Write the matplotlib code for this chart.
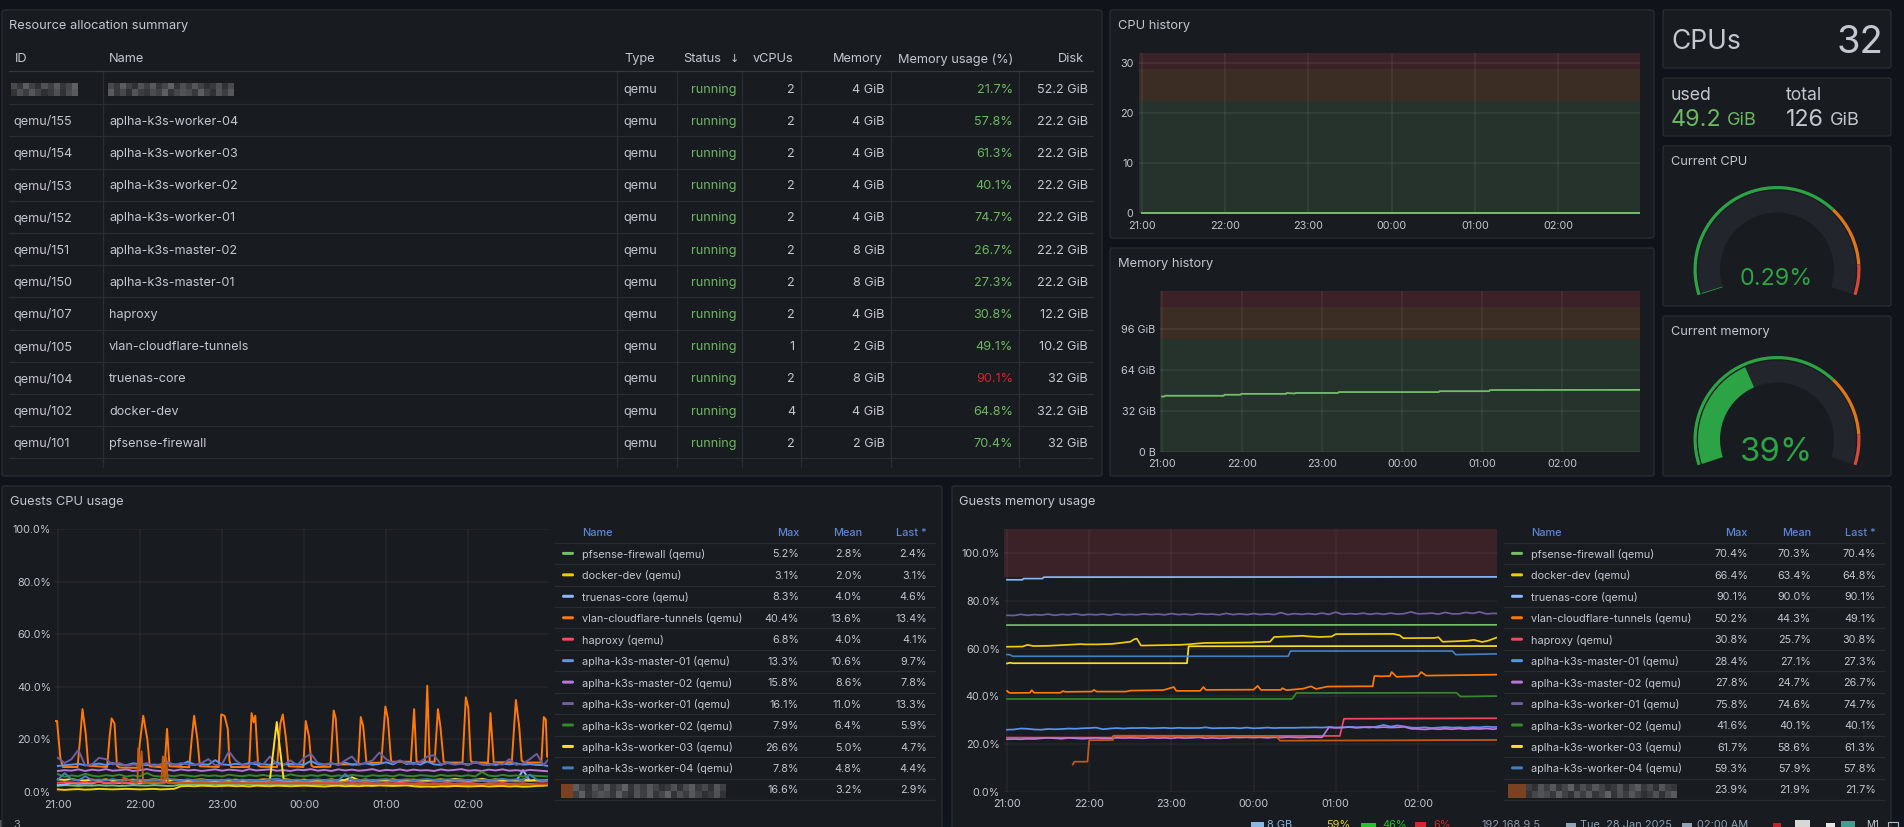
import matplotlib
matplotlib.use('Agg')
import matplotlib.pyplot as plt
import numpy as np
from matplotlib.patches import Rectangle, Wedge, FancyBboxPatch

plt.rcParams['font.family'] = ['Inter', 'DejaVu Sans']

W, H = 1904, 827

# table data
ids = ['', 'qemu/155', 'qemu/154', 'qemu/153', 'qemu/152', 'qemu/151', 'qemu/150',
       'qemu/107', 'qemu/105', 'qemu/104', 'qemu/102', 'qemu/101']
vm_names = ['', 'aplha-k3s-worker-04', 'aplha-k3s-worker-03', 'aplha-k3s-worker-02',
            'aplha-k3s-worker-01', 'aplha-k3s-master-02', 'aplha-k3s-master-01',
            'haproxy', 'vlan-cloudflare-tunnels', 'truenas-core', 'docker-dev', 'pfsense-firewall']
vcpus = [2, 2, 2, 2, 2, 2, 2, 2, 1, 2, 4, 2]
memory = ['4 GiB', '4 GiB', '4 GiB', '4 GiB', '4 GiB', '8 GiB', '8 GiB', '4 GiB', '2 GiB',
          '8 GiB', '4 GiB', '2 GiB']
mem_usage = [21.7, 57.8, 61.3, 40.1, 74.7, 26.7, 27.3, 30.8, 49.1, 90.1, 64.8, 70.4]
disk = ['52.2 GiB', '22.2 GiB', '22.2 GiB', '22.2 GiB', '22.2 GiB', '22.2 GiB', '22.2 GiB',
        '12.2 GiB', '10.2 GiB', '32 GiB', '32.2 GiB', '32 GiB']

# legend data
legend_names = ['pfsense-firewall (qemu)', 'docker-dev (qemu)', 'truenas-core (qemu)',
                'vlan-cloudflare-tunnels (qemu)', 'haproxy (qemu)', 'aplha-k3s-master-01 (qemu)',
                'aplha-k3s-master-02 (qemu)', 'aplha-k3s-worker-01 (qemu)', 'aplha-k3s-worker-02 (qemu)',
                'aplha-k3s-worker-03 (qemu)', 'aplha-k3s-worker-04 (qemu)', '']
series_colors = ['#73BF69', '#F2CC0C', '#8AB8FF', '#FF780A', '#F2495C', '#5794F2',
                 '#B877D9', '#705DA0', '#37872D', '#FADE2A', '#447EBC', '#C15C17']
cpu_max = ['5.2%', '3.1%', '8.3%', '40.4%', '6.8%', '13.3%', '15.8%', '16.1%', '7.9%', '26.6%', '7.8%', '16.6%']
cpu_mean = ['2.8%', '2.0%', '4.0%', '13.6%', '4.0%', '10.6%', '8.6%', '11.0%', '6.4%', '5.0%', '4.8%', '3.2%']
cpu_last = ['2.4%', '3.1%', '4.6%', '13.4%', '4.1%', '9.7%', '7.8%', '13.3%', '5.9%', '4.7%', '4.4%', '2.9%']
mem_max = ['70.4%', '66.4%', '90.1%', '50.2%', '30.8%', '28.4%', '27.8%', '75.8%', '41.6%', '61.7%', '59.3%', '23.9%']
mem_mean = ['70.3%', '63.4%', '90.0%', '44.3%', '25.7%', '27.1%', '24.7%', '74.6%', '40.1%', '58.6%', '57.9%', '21.9%']
mem_last = ['70.4%', '64.8%', '90.1%', '49.1%', '30.8%', '27.3%', '26.7%', '74.7%', '40.1%', '61.3%', '57.8%', '21.7%']

hour_labels = ['21:00', '22:00', '23:00', '00:00', '01:00', '02:00']

# host history, hours after 21:00
host_cpu_t = [0.0, 5.97]
host_cpu_v = [0.09, 0.09]
host_mem_t = [0.0, 0.03, 0.04, 0.06, 0.07, 0.77, 0.78, 0.98, 0.99, 1.55, 1.56, 1.6, 1.66, 1.67,
              2.2, 2.21, 3.46, 3.47, 4.09, 4.1, 5.97]
host_mem_v = [43.4, 43.4, 44.1, 44.1, 44.0, 44.0, 44.8, 44.8, 45.5, 45.5, 46.2, 46.0, 45.8, 46.2,
              46.2, 46.9, 46.9, 47.6, 47.6, 48.5, 48.6]

# guests cpu, one value every 5 minutes
cpu_pfsense = [2.4, 2.6, 2.5, 2.3, 2.5, 2.4, 2.6, 2.4, 2.5, 2.3, 2.4, 2.6, 2.5, 2.4, 2.6, 2.5, 2.3, 2.4,
               2.8, 2.9, 3.0, 2.8, 2.9, 3.1, 2.9, 2.8, 3.0, 3.1, 2.9, 2.8, 3.0, 2.9, 3.1, 2.8, 2.9, 3.0,
               2.9, 3.1, 2.8, 3.0, 2.9, 2.8, 3.0, 2.9, 3.1, 2.9, 2.8, 3.0, 2.9, 2.8, 3.0, 3.1, 2.9, 2.8,
               3.0, 2.9, 3.1, 2.8, 3.0, 2.9, 2.8, 3.0, 2.9, 3.1, 2.8, 2.9, 3.0, 2.8, 2.9, 3.0, 2.7, 2.5, 2.4]
cpu_docker = [1.0, 0.8, 1.0, 1.1, 0.9, 1.0, 1.2, 1.1, 1.0, 1.1, 1.2, 1.1, 1.0, 1.1, 1.2, 1.0, 1.1, 1.2,
              2.2, 2.3, 2.2, 2.4, 2.3, 2.2, 2.3, 2.4, 2.2, 2.3, 2.1, 2.4, 2.3, 2.2, 2.4, 2.3, 2.2, 2.3,
              2.4, 2.3, 2.2, 2.1, 2.3, 2.4, 2.2, 2.3, 2.2, 2.4, 2.3, 2.5, 2.4, 2.3, 2.4, 2.5, 2.2, 2.0,
              2.1, 2.0, 2.2, 2.1, 2.3, 2.2, 2.1, 2.2, 2.3, 2.1, 2.2, 2.3, 2.1, 2.2, 2.0, 2.1, 2.3, 2.4, 3.1]
cpu_truenas = [2.6, 2.9, 3.4, 3.1, 3.3, 3.2, 4.0, 3.3, 3.6, 3.4, 3.5, 3.2, 3.4, 3.6, 3.3, 3.5, 3.8, 3.4,
               3.6, 4.1, 3.7, 3.9, 4.0, 3.8, 4.2, 3.9, 4.1, 4.0, 3.8, 4.3, 4.0, 3.9, 4.1, 4.2, 3.9, 4.0,
               4.3, 4.0, 3.8, 4.2, 4.1, 3.9, 4.0, 4.3, 4.1, 3.9, 4.2, 4.0, 4.4, 4.1, 3.9, 4.2, 4.3, 4.0,
               4.1, 4.4, 4.2, 4.0, 4.3, 4.1, 3.9, 4.2, 4.4, 4.1, 4.0, 4.3, 4.2, 4.1, 8.3, 4.2, 4.3, 4.4, 4.6]
cpu_haproxy = [3.5, 3.7, 3.6, 3.5, 3.7, 3.6, 3.8, 3.5, 3.6, 3.7, 3.5, 3.6, 3.8, 3.6, 3.7, 3.5, 3.7, 3.6,
               3.8, 3.6, 3.7, 3.9, 3.7, 3.6, 3.8, 3.7, 3.9, 3.6, 3.8, 3.7, 3.6, 3.8, 3.9, 3.7, 3.6, 3.8,
               3.7, 3.9, 3.6, 3.8, 3.7, 3.9, 4.1, 3.8, 4.0, 3.8, 3.9, 4.1, 3.8, 4.0, 3.7, 3.9, 4.0, 3.8,
               4.1, 3.9, 4.0, 3.8, 4.1, 3.9, 3.8, 4.0, 4.2, 3.9, 4.0, 3.8, 4.1, 4.0, 3.9, 4.2, 4.0, 3.9, 4.1]
cpu_master01 = [9.9, 10.2, 10.4, 10.7, 10.2, 10.4, 10.8, 10.3, 11.0, 10.4, 10.2, 10.9, 10.6, 10.2, 10.4, 10.3, 11.0, 10.5,
                10.3, 11.6, 10.4, 10.6, 10.4, 12.1, 10.5, 10.3, 10.7, 10.4, 11.0, 10.5, 10.6, 10.3, 11.2, 10.4, 10.7, 10.5,
                10.4, 11.8, 10.5, 10.3, 10.8, 10.5, 11.2, 10.4, 10.6, 10.9, 10.3, 10.7, 11.3, 10.5, 11.9, 10.6, 11.1, 10.4,
                11.6, 10.5, 10.3, 11.2, 10.6, 10.9, 10.4, 11.4, 10.5, 10.7, 10.3, 10.8, 10.5, 10.9, 10.4, 10.6, 10.3, 10.2, 9.7]
cpu_master02 = [8.0, 8.3, 8.1, 8.6, 8.0, 8.5, 8.2, 8.7, 8.1, 8.3, 8.6, 8.0, 8.3, 8.7, 8.2, 8.0, 8.5, 8.1,
                8.6, 8.2, 8.4, 8.0, 8.3, 8.6, 8.1, 8.5, 8.3, 8.0, 8.7, 8.2, 8.4, 8.6, 8.1, 8.3, 8.0, 8.5,
                8.3, 8.7, 8.1, 8.4, 8.0, 8.6, 8.2, 8.5, 8.1, 8.3, 8.7, 8.0, 8.4, 8.2, 8.6, 8.1, 8.5, 8.2,
                8.3, 8.0, 8.6, 8.2, 8.4, 8.7, 8.1, 8.3, 8.0, 8.5, 8.2, 8.6, 8.1, 8.3, 8.0, 8.4, 8.2, 8.0, 7.8]
cpu_worker01 = [13.0, 11.0, 12.5, 16.0, 10.0, 10.5, 13.0, 12.5, 10.5, 11.0, 10.0, 10.5, 10.2, 11.0, 10.0, 10.5, 11.5, 10.2,
                11.0, 10.5, 10.2, 11.0, 12.5, 10.2, 10.5, 15.5, 12.0, 10.2, 10.5, 11.5, 10.4, 13.5, 10.5, 10.3, 12.0, 10.2,
                13.0, 14.5, 11.0, 10.5, 11.0, 10.2, 12.0, 13.5, 10.3, 11.0, 12.0, 15.0, 12.5, 11.0, 12.0, 11.0, 10.5, 11.5,
                13.5, 14.0, 10.5, 11.0, 10.4, 10.8, 10.2, 11.5, 10.4, 10.2, 11.0, 10.4, 12.5, 10.3, 10.8, 12.5, 14.5, 10.2, 13.3]
cpu_worker02 = [6.8, 5.8, 6.3, 6.0, 6.9, 6.2, 5.9, 6.4, 6.1, 6.6, 5.9, 6.3, 6.0, 7.2, 6.1, 5.9, 6.3, 6.0,
                6.5, 6.2, 5.9, 6.4, 6.1, 6.3, 5.9, 6.6, 6.2, 6.0, 6.4, 6.1, 6.5, 6.0, 6.3, 5.9, 6.7, 6.2,
                6.0, 6.4, 6.1, 6.6, 5.9, 6.3, 6.0, 6.5, 6.2, 5.9, 6.4, 6.1, 6.3, 5.9, 6.6, 6.1, 6.0, 6.4,
                6.2, 5.9, 6.5, 6.1, 6.3, 6.0, 6.4, 5.9, 7.6, 6.2, 6.0, 6.5, 6.1, 6.3, 5.9, 6.4, 6.1, 6.0, 5.9]
cpu_worker03 = [4.8, 4.6, 4.9, 4.5, 4.4, 4.7, 4.5, 4.8, 4.4, 4.6, 4.5, 4.7, 4.4, 4.5, 4.8, 4.6, 4.4, 4.7,
                4.5, 4.4, 4.6, 4.8, 4.5, 4.4, 4.6, 4.5, 4.7, 4.4, 4.6, 4.5, 4.8, 4.7, 26.6, 4.9, 4.6, 4.5,
                4.7, 4.4, 4.6, 4.5, 4.8, 4.4, 4.6, 5.6, 4.5, 4.7, 4.4, 4.6, 4.5, 4.8, 4.4, 4.6, 4.7, 4.5,
                4.4, 4.6, 4.8, 4.5, 5.0, 4.7, 4.4, 4.6, 5.0, 4.5, 4.8, 4.4, 4.6, 4.5, 4.7, 4.4, 4.6, 4.5, 4.7]
cpu_worker04 = [4.7, 7.2, 4.8, 4.4, 6.0, 4.5, 4.7, 4.4, 4.9, 4.5, 4.6, 4.4, 4.7, 4.5, 4.8, 4.4, 5.2, 4.6,
                4.4, 4.8, 4.5, 4.7, 4.4, 4.6, 4.5, 4.8, 4.4, 4.7, 4.5, 4.6, 4.4, 4.8, 5.0, 4.6, 4.5, 4.7,
                4.4, 4.6, 4.8, 4.5, 4.7, 4.4, 6.8, 4.6, 4.5, 4.8, 4.4, 4.7, 4.9, 4.5, 4.6, 4.8, 4.5, 4.7,
                4.9, 4.6, 4.5, 4.8, 4.6, 4.7, 4.5, 4.8, 4.6, 4.5, 4.7, 5.0, 4.6, 4.8, 4.5, 6.6, 4.7, 4.5, 4.4]
cpu_vlan_t = [-0.03, -0.01, 0.03, 0.06, 0.24, 0.27, 0.30, 0.34, 0.37, 0.60, 0.63, 0.655, 0.69, 0.72, 0.75, 0.97, 1.0,
              1.04, 1.09, 1.12, 1.30, 1.33, 1.36, 1.60, 1.63, 1.66, 1.70, 1.73, 1.96, 1.99, 2.03, 2.07, 2.09, 2.11,
              2.33, 2.36, 2.385, 2.405, 2.44, 2.47, 2.67, 2.71, 2.74, 2.78, 2.81, 2.99, 3.02, 3.06, 3.09, 3.12,
              3.32, 3.36, 3.385, 3.42, 3.66, 3.69, 3.72, 3.76, 3.94, 3.99, 4.02, 4.06, 4.30, 4.34, 4.37, 4.47,
              4.50, 4.53, 4.59, 4.63, 4.66, 4.70, 4.73, 4.93, 4.97, 5.0, 5.03, 5.05, 5.24, 5.27, 5.31, 5.53, 5.58,
              5.62, 5.65, 5.68, 5.89, 5.92, 5.945, 5.96, 5.98]
cpu_vlan_v = [27, 27, 13, 9.5, 9.5, 20, 31.5, 22, 10, 9.5, 21, 28, 26, 10, 9.3, 9.2, 19,
              29, 20, 9.8, 9.3, 24, 9.8, 9.4, 20, 29, 20, 9.8, 9.5, 29.5, 29, 24, 12, 9.5,
              9.5, 30, 26.5, 29, 10, 9.6, 9.5, 26, 29.5, 20, 9.8, 9.5, 27, 21, 10, 9.5,
              9.6, 31, 28, 10.5, 10.5, 28.5, 25, 11, 11.2, 32.5, 28, 11.5, 11.5, 31.5, 11.5, 11.5,
              40.4, 11.5, 11.5, 31.5, 25, 11.5, 11.2, 11.2, 36, 32, 12, 11.2, 11.2, 30, 11.3, 11.3, 35,
              25, 12, 11.2, 11.2, 28.5, 27.5, 13.4, 13.4]
cpu_other_t = [0.78, 0.80, 0.95, 0.97, 0.98, 1.0, 1.02, 1.04, 1.26, 1.28, 1.30, 1.32, 1.34, 2.5, 4.0, 5.97]
cpu_other_v = [3.2, 5.5, 3.4, 3.5, 16.6, 9.0, 15.5, 3.5, 3.6, 13.5, 4.0, 13.0, 3.4, 3.3, 3.1, 2.9]

# guests memory, hours after 21:00
mem_pfsense_t = [0.0, 5.97]
mem_pfsense_v = [69.9, 70.0]
mem_docker_t = [0.0, 0.19, 0.25, 0.32, 0.5, 0.9, 0.95, 1.1, 1.28, 1.5, 1.55, 1.58, 1.63, 2.1, 2.2, 2.4, 3.0,
                3.0, 3.2, 3.25, 3.6, 3.65, 3.8, 3.95, 4.0, 4.7, 4.78, 4.82, 5.2, 5.25, 5.3, 5.6, 5.68, 5.78, 5.85, 5.97]
mem_docker_v = [60.8, 60.9, 61.6, 61.1, 61.2, 61.9, 61.8, 61.8, 62.0, 62.9, 64.0, 64.2, 61.3, 61.6, 61.8, 62.4, 62.6,
                62.7, 62.9, 64.9, 65.4, 65.2, 64.9, 65.1, 66.1, 66.2, 65.6, 64.4, 64.5, 64.8, 62.9, 63.3, 63.7, 62.8, 63.3, 64.8]
mem_truenas_t = [0.0, 0.19, 0.2, 0.43, 0.45, 5.97]
mem_truenas_v = [88.9, 88.9, 89.4, 89.4, 90.0, 90.1]
mem_vlan_t = [0.0, 0.02, 0.05, 0.28, 0.3, 0.33, 0.65, 0.68, 0.71, 1.03, 1.06, 1.09, 1.45, 1.5, 1.9, 2.03, 2.06, 2.35,
              2.39, 2.42, 3.0, 3.05, 3.09, 3.33, 3.35, 3.4, 3.6, 3.7, 3.76, 3.9, 4.3, 4.45, 4.47, 4.52, 4.54, 4.66,
              4.68, 4.74, 5.0, 5.04, 5.1, 5.97]
mem_vlan_v = [42.3, 41.6, 41.4, 41.5, 42.6, 41.5, 41.5, 42.2, 41.9, 42.0, 42.7, 42.0, 42.0, 42.4, 42.6, 43.9, 42.3, 42.3,
              43.9, 42.7, 42.8, 44.4, 42.7, 42.7, 43.4, 42.6, 43.2, 44.2, 43.1, 44.1, 44.2, 44.2, 48.5, 48.5, 48.4, 48.5,
              50.2, 48.2, 48.5, 50.2, 48.7, 49.1]
mem_haproxy_t = [0.0, 1.28, 1.29, 2.5, 4.05, 4.1, 5.97]
mem_haproxy_v = [22.7, 22.7, 23.3, 23.4, 23.4, 30.6, 30.8]
mem_master01 = [26.0, 26.1, 26.5, 26.4, 26.1, 26.0, 26.3, 26.2, 26.3, 26.5, 26.4, 26.6, 26.7, 26.9, 26.2, 26.5, 26.7, 26.5,
                26.7, 26.7, 26.8, 26.6, 26.7, 26.8, 26.6, 26.8, 26.7, 26.7, 26.7, 27.0, 26.6, 26.7, 26.7, 26.8, 26.6, 26.9,
                26.6, 26.7, 26.9, 26.7, 26.8, 26.8, 26.8, 26.9, 26.9, 27.0, 26.9, 27.1, 26.9, 27.0, 27.2, 27.0, 27.1, 26.9,
                27.3, 28.0, 27.3, 27.8, 27.4, 26.9, 26.8, 27.0, 26.7, 26.9, 27.1, 26.9, 27.0, 26.8, 27.1, 27.0, 27.3, 27.1, 27.3]
mem_master02 = [22.0, 22.1, 22.0, 22.2, 22.1, 22.4, 22.6, 22.4, 22.2, 22.6, 22.4, 22.2, 22.4, 22.6, 22.4, 22.3, 22.6, 22.5,
                22.6, 22.5, 22.4, 22.7, 22.5, 22.6, 22.4, 22.7, 22.5, 22.6, 22.8, 22.4, 22.6, 22.4, 22.5, 22.8, 22.7, 22.8,
                22.7, 22.8, 22.6, 22.8, 22.7, 22.9, 22.8, 22.7, 22.9, 22.9, 22.8, 27.0, 26.8, 26.9, 27.1, 26.8, 27.0, 27.2,
                26.9, 27.1, 26.9, 27.0, 27.2, 26.4, 26.3, 26.1, 26.4, 26.2, 26.4, 26.2, 26.5, 26.2, 26.4, 26.3, 26.5, 26.2, 26.7]
mem_worker01 = [74.0, 73.9, 74.4, 74.0, 74.3, 74.1, 74.5, 74.0, 74.4, 74.2, 74.6, 74.1, 74.4, 74.2, 74.5, 74.1, 74.6, 74.2,
                74.4, 74.2, 74.6, 74.3, 74.5, 74.2, 74.7, 74.3, 74.5, 74.2, 74.7, 74.4, 74.5, 74.2, 74.8, 74.3, 74.6, 74.3,
                74.7, 74.3, 74.6, 74.3, 75.1, 74.3, 74.7, 74.4, 74.7, 74.4, 74.9, 74.4, 75.3, 74.4, 74.7, 74.5, 74.9, 74.4,
                74.8, 74.4, 74.9, 74.5, 74.7, 75.4, 74.6, 74.7, 74.9, 74.5, 75.2, 74.6, 74.6, 75.2, 74.8, 75.4, 74.6, 74.8, 74.7]
mem_worker02_t = [0.0, 3.47, 3.52, 5.47, 5.52, 5.97]
mem_worker02_v = [38.9, 38.9, 41.4, 41.5, 39.9, 40.1]
mem_worker03_t = [0.0, 0.04, 0.07, 2.19, 2.21, 5.97]
mem_worker03_v = [53.8, 54.1, 53.9, 53.9, 61.0, 61.1]
mem_worker04_t = [0.0, 0.03, 0.07, 3.42, 3.45, 5.42, 5.46, 5.97]
mem_worker04_v = [57.5, 57.5, 56.8, 56.8, 59.0, 59.0, 57.5, 57.8]
mem_other_t = [0.8, 0.82, 0.98, 1.0, 1.29, 1.3, 3.28, 3.32, 5.97]
mem_other_v = [11.4, 12.6, 12.6, 21.6, 21.7, 23.5, 23.4, 21.4, 21.7]

panel_color = '#181b1f'
canvas_color = '#10131a'
border_color = '#2a2d33'
text_color = '#c4c6d0'
green_text = '#6cb860'
header_blue = '#5d86d6'
gauge_green = '#2ca445'

fig = plt.figure(figsize=(W / 100, H / 100), dpi=100, facecolor=canvas_color)
root = fig.add_axes([0, 0, 1, 1])
root.set_xlim(0, W)
root.set_ylim(H, 0)
root.axis('off')


def panel(x0, y0, x1, y1):
    root.add_patch(FancyBboxPatch((x0 + 1, y0 + 1), x1 - x0 - 2, y1 - y0 - 2, boxstyle='round,pad=0,rounding_size=2',
                                  fc=panel_color, ec=border_color, lw=0.9, zorder=1))


def txt(x, y, s, size=9.1, color=text_color, ha='left', va='center', **kw):
    # y is the visual middle of the glyphs, which sit above the middle of the text box
    if va == 'center':
        y = y + 0.14 * size
    return root.text(x, y, s, fontsize=size, color=color, ha=ha, va=va, zorder=5, **kw)


def mosaic(x0, y0, x1, y1, first=None):
    # blocks hiding the redacted names
    pattern = [[70, 52, 88, 60, 45, 78, 58, 84, 50, 66, 92, 48, 74, 56, 82, 62, 44],
               [54, 76, 46, 70, 86, 52, 68, 44, 80, 58, 50, 72, 60, 90, 48, 66, 78]]
    cols = max(int((x1 - x0) / 6), 2)
    img = np.resize(np.array(pattern), (2, cols))
    rgb = np.stack([img + 2, img + 4, img + 8], axis=2).astype(np.uint8)
    if first is not None:
        rgb[:, :first] = [122, 66, 34]
    root.imshow(rgb, extent=(x0, x1, y1, y0), aspect='auto', interpolation='nearest', zorder=4)
    root.set_xlim(0, W)
    root.set_ylim(H, 0)


def chart_axes(left, top, right, bottom, xpad=5.4, ypad=3.1, grid_alpha=0.07):
    ax = fig.add_axes([left / W, 1 - bottom / H, (right - left) / W, (bottom - top) / H])
    ax.set_facecolor('none')
    for s in ax.spines.values():
        s.set_visible(False)
    ax.tick_params(length=0, labelsize=7.8, labelcolor=text_color)
    ax.tick_params(axis='x', pad=xpad)
    ax.tick_params(axis='y', pad=ypad)
    ax.set_xticks(range(6))
    ax.set_xticklabels(hour_labels)
    ax.grid(True, color='white', alpha=grid_alpha, lw=1.1)
    ax.set_axisbelow(False)
    return ax


def threshold_spans(ax, top, red_from, orange_from):
    ax.axhspan(0, orange_from, color='#26332c', lw=0, zorder=0.5)
    ax.axhspan(orange_from, red_from, color='#3b2d23', lw=0, zorder=0.5)
    ax.axhspan(red_from, top, color='#3a2228', lw=0, zorder=0.5)


def gauge(cx, cy, value, thresholds=(70, 90)):
    R = 84
    ax = fig.add_axes([(cx - R) / W, 1 - (cy + R) / H, 2 * R / W, 2 * R / H])
    ax.set_xlim(-R, R)
    ax.set_ylim(-R, R)
    ax.axis('off')

    def ang(v):
        return 198 - v / 100 * 216

    ax.add_patch(Wedge((0, 0), 79, ang(100), ang(0), width=22, fc='#22252b', lw=0))
    ax.add_patch(Wedge((0, 0), 79, ang(value), ang(0), width=22, fc=gauge_green, lw=0))
    ax.add_patch(Wedge((0, 0), 83.5, ang(thresholds[0]), ang(0), width=3.2, fc=gauge_green, lw=0))
    ax.add_patch(Wedge((0, 0), 83.5, ang(thresholds[1]), ang(thresholds[0]), width=3.2, fc='#e0761a', lw=0))
    ax.add_patch(Wedge((0, 0), 83.5, ang(100), ang(thresholds[1]), width=3.2, fc='#d44a3a', lw=0))


def legend_table(x0, x1, swatch_x, name_x, max_x, mean_x, last_x, maxs, means, lasts):
    head_y = 532
    txt(name_x, head_y, 'Name', color=header_blue, size=7.9, fontweight='medium')
    txt(max_x, head_y, 'Max', color=header_blue, ha='right', size=7.9, fontweight='medium')
    txt(mean_x, head_y, 'Mean', color=header_blue, ha='right', size=7.9, fontweight='medium')
    txt(last_x, head_y, 'Last *', color=header_blue, ha='right', size=7.9, fontweight='medium')
    root.plot([x0, x1], [543, 543], color=border_color, lw=0.9, zorder=2)
    for i, name in enumerate(legend_names):
        y = 553.4 + i * 21.45
        if name:
            root.add_patch(FancyBboxPatch((swatch_x, y - 1.5), 12, 3, boxstyle='round,pad=0,rounding_size=1.5',
                                          fc=series_colors[i], lw=0, zorder=3))
            txt(name_x, y, name, size=7.85)
        txt(max_x, y, maxs[i], ha='right', size=7.75)
        txt(mean_x, y, means[i], ha='right', size=7.75)
        txt(last_x, y, lasts[i], ha='right', size=7.75)
        root.plot([x0, x1], [y + 10.7, y + 10.7], color=border_color, lw=0.9, zorder=2)


# taskbar strip at the bottom
root.add_patch(Rectangle((0, 817), W, 10, fc='#0e1620', lw=0, zorder=0.5))
root.add_patch(Rectangle((0, 820), 6, 7, fc='#555a60', lw=0, zorder=0.6))

# resource table
panel(1, 9, 1103, 477)
txt(9, 24.5, 'Resource allocation summary', size=9.25)
col_lines = [103, 617, 677, 742, 801, 891, 1019]
for xl in col_lines:
    root.plot([xl, xl], [71, 467], color=border_color, lw=0.9, zorder=2)
root.plot([9, 1093], [71, 71], color='#34373d', lw=0.9, zorder=2)
header_y = 58
txt(15, header_y, 'ID', size=9.2)
txt(109, header_y, 'Name', size=9.2)
txt(624, header_y, 'Type', size=9.2)
txt(683, header_y, 'Status', size=9.2)
txt(730, header_y, '↓', size=8, family=['DejaVu Sans'])
txt(793, header_y, 'vCPUs', ha='right', size=9.2)
txt(883, header_y, 'Memory', ha='right', size=9.2)
mu = txt(898, header_y, 'Memory usage (%)', size=9.2)
mu.set_clip_path(Rectangle((891, 45), 120, 25, transform=root.transData))
txt(1084, header_y, 'Disk', ha='right', size=9.2)
for i in range(len(ids)):
    y = 88.3 + i * 32.2
    if ids[i]:
        txt(13.5, y, ids[i])
        txt(109, y, vm_names[i])
    txt(623.5, y, 'qemu')
    txt(737, y, 'running', ha='right', color=green_text)
    txt(795, y, str(vcpus[i]), ha='right')
    txt(885, y, memory[i], ha='right')
    usage_color = '#d8232f' if mem_usage[i] >= 90 else green_text
    txt(1013, y, f'{mem_usage[i]}%', ha='right', color=usage_color)
    txt(1088, y, disk[i], ha='right')
    root.plot([9, 1093], [y + 15.9, y + 15.9], color=border_color, lw=0.9, zorder=2)
mosaic(11, 83, 78, 96)
mosaic(108, 83, 234, 96)

# cpu history
panel(1109, 9, 1655, 239)
txt(1118, 24.5, 'CPU history', size=9.25)
ax = chart_axes(1139, 53, 1640, 213, xpad=5.9, ypad=3.9)
threshold_spans(ax, 32, 28.8, 22.4)
ax.plot(host_cpu_t, host_cpu_v, color='#73BF69', lw=1.4, clip_on=False, zorder=3)
ax.set_xlim(-0.03, 5.98)
ax.set_ylim(0, 32)
ax.set_yticks([0, 10, 20, 30])
ax.set_yticklabels(['0', '10', '20', '30'])

# memory history
panel(1109, 247, 1655, 477)
txt(1118, 262.5, 'Memory history', size=9.25)
ax = chart_axes(1160, 291, 1640, 452, xpad=4.7)
threshold_spans(ax, 126, 113.4, 88.2)
ax.plot(host_mem_t, host_mem_v, color='#73BF69', lw=1.3, zorder=3)
ax.set_xlim(-0.025, 5.975)
ax.set_ylim(0, 126)
ax.set_yticks([0, 32, 64, 96])
ax.set_yticklabels(['0 B', '32 GiB', '64 GiB', '96 GiB'])

# stat panels
panel(1662, 9, 1892, 69)
txt(1671, 39, 'CPUs', size=19)
txt(1883, 39, '32', ha='right', size=27.5)
panel(1662, 77, 1892, 137)
txt(1671, 94, 'used', size=12.7)
txt(1786, 94, 'total', size=12.7)
txt(1671, 117.5, '49.2', size=16.8, color=green_text)
txt(1727, 119, 'GiB', size=13, color=green_text)
txt(1786, 117.5, '126', size=16.8)
txt(1830, 119, 'GiB', size=13)

# gauges
panel(1662, 145, 1892, 307)
txt(1671, 161, 'Current CPU', size=9.2)
gauge(1777, 269.5, 0.29)
txt(1776, 277, '0.29%', ha='center', size=16.8, color=gauge_green)
panel(1662, 315, 1892, 477)
txt(1671, 331, 'Current memory', size=9.2)
gauge(1777, 439.5, 39)
txt(1776, 449, '39%', ha='center', size=23.7, color=gauge_green)

# guests cpu usage
panel(1, 485, 943, 830)
txt(10, 501, 'Guests CPU usage', size=9.25)
ax = chart_axes(55.4, 529, 547.5, 792, grid_alpha=0.05)
steps = np.arange(73) * 5 / 60
cpu_lines = [(steps, cpu_pfsense), (steps, cpu_docker), (steps, cpu_truenas), (cpu_vlan_t, cpu_vlan_v),
             (steps, cpu_haproxy), (steps, cpu_master01), (steps, cpu_master02), (steps, cpu_worker01),
             (steps, cpu_worker02), (steps, cpu_worker03), (steps, cpu_worker04), (cpu_other_t, cpu_other_v)]
for (t, v), c in zip(cpu_lines, series_colors):
    ax.plot(t, v, color=c, lw=1.4, zorder=3)
ax.set_xlim(-0.03, 5.965)
ax.set_ylim(0, 100)
ax.set_yticks([0, 20, 40, 60, 80, 100])
ax.set_yticklabels(['0.0%', '20.0%', '40.0%', '60.0%', '80.0%', '100.0%'])
legend_table(555, 935, 562, 582, 799, 862, 927, cpu_max, cpu_mean, cpu_last)
mosaic(561, 784, 726, 798, first=2)

# guests memory usage
panel(951, 485, 1892, 830)
txt(959, 501, 'Guests memory usage', size=9.25)
ax = chart_axes(1004.3, 529, 1496.8, 791.7, grid_alpha=0.05)
ax.axhspan(90, 110.2, color='#3a2228', lw=0, zorder=0.5)
mem_lines = [(mem_pfsense_t, mem_pfsense_v), (mem_docker_t, mem_docker_v), (mem_truenas_t, mem_truenas_v),
             (mem_vlan_t, mem_vlan_v), (mem_haproxy_t, mem_haproxy_v), (steps, mem_master01), (steps, mem_master02),
             (steps, mem_worker01), (mem_worker02_t, mem_worker02_v), (mem_worker03_t, mem_worker03_v),
             (mem_worker04_t, mem_worker04_v), (mem_other_t, mem_other_v)]
for (t, v), c in zip(mem_lines, series_colors):
    ax.plot(t, v, color=c, lw=1.25, zorder=3)
ax.set_xlim(-0.033, 5.96)
ax.set_ylim(0, 110.2)
ax.set_yticks([0, 20, 40, 60, 80, 100])
ax.set_yticklabels(['0.0%', '20.0%', '40.0%', '60.0%', '80.0%', '100.0%'])
legend_table(1504, 1884, 1511, 1531, 1748, 1811, 1876, mem_max, mem_mean, mem_last)
mosaic(1508, 784, 1677, 798, first=3)

# taskbar text, cut off by the bottom edge of the shot
bar_y = 820.5
txt(13, bar_y, '3', va='top', size=8, color='#9fa6b2')
txt(1267, bar_y, '8 GB', va='top', size=7.9, color='#8ab8e6')
txt(1326, bar_y, '59%', va='top', size=7.9, color='#e3d23a')
txt(1382, bar_y, '46%', va='top', size=7.9, color='#22c32e')
txt(1433, bar_y, '6%', va='top', size=7.9, color='#d0282c')
txt(1481, bar_y, '192.168.9.5', va='top', size=7.9, color='#8f9aa8')
txt(1580, bar_y, 'Tue, 28 Jan 2025', va='top', size=7.9, color='#8fa3b5')
txt(1697, bar_y, '02:00 AM', va='top', size=7.9, color='#8fa3b5')
root.add_patch(Rectangle((1251, 822), 13, 5, fc='#8ab8e6', lw=0, zorder=3))
root.add_patch(Rectangle((1361, 823), 15, 4, fc='#22c32e', lw=0, zorder=3))
root.add_patch(Rectangle((1415, 822), 11, 5, fc='#d0282c', lw=0, zorder=3))
root.add_patch(Rectangle((1566, 823), 10, 4, fc='#8fa3b5', lw=0, zorder=3))
root.add_patch(Rectangle((1682, 823), 10, 4, fc='#8fa3b5', lw=0, zorder=3))
root.add_patch(Rectangle((1773, 823), 8, 4, fc='#c81e28', lw=0, zorder=3))
root.add_patch(Rectangle((1795, 820), 15, 7, fc='#d8d8d8', lw=0, zorder=3))
root.add_patch(Rectangle((1826, 823), 9, 4, fc='#e6e6e6', lw=0, zorder=3))
root.add_patch(Rectangle((1841, 821), 14, 6, fc='#3f9f8f', lw=0, zorder=3))
txt(1866, 820.5, 'M1', va='top', size=7, color='#c9cdd2')
root.add_patch(Rectangle((1888, 822), 10, 5, fc='none', ec='#b8bcc2', lw=0.8, zorder=3))

fig.savefig('out.png', dpi=100, facecolor=canvas_color)
